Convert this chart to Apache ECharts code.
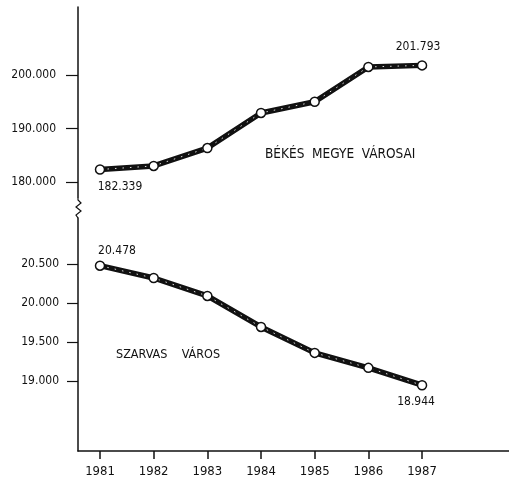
<!DOCTYPE html>
<html>
<head>
<meta charset="utf-8">
<script src="https://cdn.jsdelivr.net/npm/echarts@6/dist/echarts.min.js"></script>
<style>
html, body { margin: 0; padding: 0; background: #fff; }
#chart { width: 509px; height: 482px; }
</style>
</head>
<body>
<div id="chart"></div>
<script>
var years = [1981, 1982, 1983, 1984, 1985, 1986, 1987];
var bekesValues = [182339, 183000, 186350, 192900, 195000, 201500, 201793];
var szarvasValues = [20478, 20320, 20090, 19692, 19359, 19167, 18944];
var bekesTicks = [180000, 190000, 200000];
var szarvasTicks = [19000, 19500, 20000, 20500];
var bekesTitle = 'BÉKÉS  MEGYE  VÁROSAI';
var szarvasTitle = 'SZARVAS    VÁROS';

var font = "'DejaVu Sans Condensed', 'Liberation Sans Narrow', sans-serif";

function fmt(v) {
  return String(v).replace(/\B(?=(\d{3})+(?!\d))/g, '.');
}

// endpoint labels: index -> offset from the point
function buildData(values, labelOffsets) {
  return years.map(function (y, i) {
    var item = { value: [y, values[i]] };
    if (labelOffsets[i]) {
      item.label = {
        show: true,
        position: 'inside',
        offset: labelOffsets[i],
        formatter: function (p) { return fmt(p.value[1]); },
        color: '#111',
        fontFamily: font,
        fontSize: 12
      };
    }
    return item;
  });
}

function lineSeries(idx, values, labelOffsets) {
  var pairs = years.map(function (y, i) { return [y, values[i]]; });
  return [{
    type: 'line',
    xAxisIndex: idx, yAxisIndex: idx,
    data: pairs,
    showSymbol: false,
    silent: true,
    lineStyle: { color: '#111', width: 5.5 },
    z: 2
  }, {
    type: 'line',
    xAxisIndex: idx, yAxisIndex: idx,
    data: buildData(values, labelOffsets),
    symbol: 'circle',
    symbolSize: 9,
    itemStyle: { color: '#fff', borderColor: '#111', borderWidth: 1.5 },
    lineStyle: { color: '#fff', width: 1, type: [1.5, 6], opacity: 0.85 },
    z: 3
  }];
}

var chart = echarts.init(document.getElementById('chart'), null, { renderer: 'canvas' });

var xBase = {
  type: 'value',
  min: 1980.59,
  max: 1988.62,
  splitLine: { show: false }
};

chart.setOption({
  animation: false,
  backgroundColor: '#fff',
  grid: [
    { left: 78, right: 0, top: 7, bottom: 285 },
    { left: 78, right: 0, top: 218, bottom: 31 }
  ],
  xAxis: [
    Object.assign({}, xBase, {
      gridIndex: 0,
      axisLine: { show: false },
      axisTick: { show: false },
      axisLabel: { show: false }
    }),
    Object.assign({}, xBase, {
      gridIndex: 1,
      axisLine: { show: true, onZero: false, lineStyle: { color: '#111', width: 1.5 } },
      axisTick: { show: true, length: 8, customValues: years, lineStyle: { color: '#111', width: 1.5 } },
      axisLabel: {
        customValues: years,
        margin: 14,
        color: '#111',
        fontFamily: font,
        fontSize: 13,
        formatter: function (v) { return String(v); }
      }
    })
  ],
  yAxis: [{
    type: 'value',
    gridIndex: 0,
    min: 177200,
    max: 212700,
    splitLine: { show: false },
    axisLine: { show: true, onZero: false, lineStyle: { color: '#111', width: 1.5 } },
    axisTick: { show: true, length: 12, customValues: bekesTicks, lineStyle: { color: '#111', width: 1.2 } },
    axisLabel: {
      customValues: bekesTicks,
      margin: 22,
      color: '#111',
      fontFamily: font,
      fontSize: 12,
      formatter: fmt
    }
  }, {
    type: 'value',
    gridIndex: 1,
    min: 18100,
    max: 21090,
    splitLine: { show: false },
    axisLine: { show: true, onZero: false, lineStyle: { color: '#111', width: 1.5 } },
    axisTick: { show: true, length: 11, customValues: szarvasTicks, lineStyle: { color: '#111', width: 1.2 } },
    axisLabel: {
      customValues: szarvasTicks,
      margin: 19,
      color: '#111',
      fontFamily: font,
      fontSize: 12,
      formatter: fmt
    }
  }],
  series: []
    .concat(lineSeries(0, bekesValues, { 0: [20, 17], 6: [-4, -19] }))
    .concat(lineSeries(1, szarvasValues, { 0: [17, -15], 6: [-6, 17] })),
  graphic: [
    // axis break mark
    {
      type: 'polyline',
      shape: { points: [[78, 197], [78, 200], [81, 203], [76, 207], [81, 211], [76, 215], [78, 218]] },
      style: { stroke: '#111', lineWidth: 1.2, fill: null }
    },
    {
      type: 'text', left: 265, top: 147,
      style: { text: bekesTitle, fill: '#111', font: '13.5px ' + font }
    },
    {
      type: 'text', left: 116, top: 348,
      style: { text: szarvasTitle, fill: '#111', font: '12.5px ' + font }
    }
  ]
});
</script>
</body>
</html>
